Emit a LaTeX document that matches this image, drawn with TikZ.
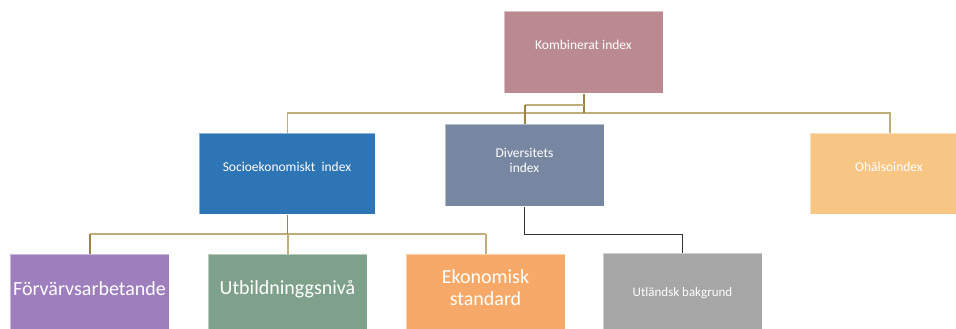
\documentclass[tikz,border=0pt]{standalone}
\usepackage{fontspec}
\setmainfont{Carlito}
\usetikzlibrary{calc}

\definecolor{kombc}{HTML}{BB8A91}
\definecolor{socic}{HTML}{2E75B6}
\definecolor{divc}{HTML}{7787A1}
\definecolor{ohalc}{HTML}{F7C685}
\definecolor{forvc}{HTML}{9E7EBD}
\definecolor{utbc}{HTML}{7FA18B}
\definecolor{ekoc}{HTML}{F6A968}
\definecolor{utlc}{HTML}{A6A6A6}
\definecolor{goldline}{HTML}{BFAE7A}
\definecolor{golddark}{HTML}{9A8440}
\definecolor{blackline}{HTML}{333333}

\tikzset{
  box/.style={anchor=north west, inner sep=0pt, minimum width=159pt,
    minimum height=82pt, draw=white, draw opacity=0.45, line width=0.7pt},
  smalltext/.style={text=white, font=\fontsize{13.5}{16}\selectfont, align=center, inner sep=0pt},
  bigtext/.style={text=white, font=\fontsize{20}{22}\selectfont, align=center, inner sep=0pt},
  bus/.style={goldline, line width=1.3pt},
  drop/.style={golddark, line width=1.3pt},
  blackconn/.style={blackline, line width=1pt}
}

\begin{document}
\begin{tikzpicture}[x=1pt, y=-1pt]
  \clip (0,0) rectangle (956,329);
  \fill[white] (0,0) rectangle (956,329);

  % boxes
  \node[box, fill=kombc] (komb) at (504,11) {};
  \node[box, fill=socic, minimum width=176pt, minimum height=81pt] (soci) at (199,133) {};
  \node[box, fill=divc] (div) at (445,124) {};
  \node[box, fill=ohalc, minimum height=81pt] (ohal) at (810,133) {};
  \node[box, fill=forvc] (forv) at (10,254) {};
  \node[box, fill=utbc] (utb) at (208,254) {};
  \node[box, fill=ekoc] (eko) at (406,254) {};
  \node[box, fill=utlc] (utl) at (603,253) {};

  % texts
  \node[smalltext] at (583.5,45) {Kombinerat index};
  \node[smalltext] at (287,167) {Socioekonomiskt\ \ index};
  \node[smalltext, font=\fontsize{13.5}{15}\selectfont] at (524.5,160) {Diversitets\\index};
  \node[smalltext] at (889,167) {Ohälsoindex};
  \node[bigtext] at (89.5,289) {Förvärvsarbetande};
  \node[bigtext] at (287.5,289) {Utbildninggsnivå};
  \node[bigtext, font=\fontsize{20}{22}\selectfont] at (485.5,288) {Ekonomisk\\standard};
  \node[smalltext, font=\fontsize{13}{15}\selectfont] at (682.5,293) {Utländsk bakgrund};

  % bus levels
  \coordinate (topbus) at (0,113);
  \coordinate (divbus) at (0,105);
  \coordinate (lowbus) at (0,234);

  % connectors from the combined index
  \draw[bus] (soci.north) |- (ohal.north |- topbus) -- (ohal.north);
  \draw[drop] (komb.south) -- (komb.south |- topbus);
  \draw[bus] (komb.south |- divbus) -- (div.north |- divbus);
  \draw[drop] (div.north |- divbus) -- (div.north);

  % connectors from the socioeconomic index
  \draw[bus] (forv.north |- lowbus) -- (eko.north |- lowbus);
  \draw[drop] (soci.south) -- (soci.south |- lowbus);
  \draw[drop] (forv.north |- lowbus) -- (forv.north);
  \draw[bus] (utb.north |- lowbus) -- (utb.north);
  \draw[bus] (eko.north |- lowbus) -- (eko.north);

  % connector from the diversity index
  \draw[blackconn] (div.south) |- (utl.north |- lowbus) -- (utl.north);
\end{tikzpicture}
\end{document}
